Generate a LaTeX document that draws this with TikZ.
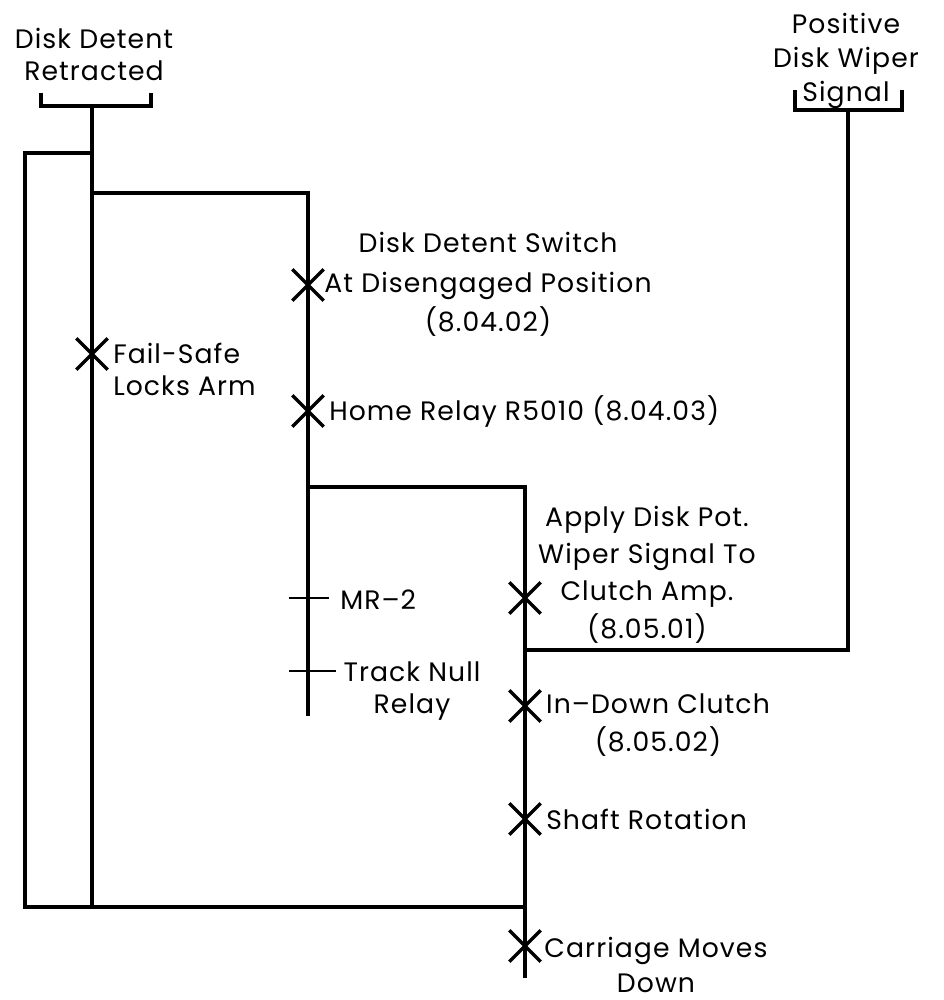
\documentclass[tikz,border=0pt]{standalone}
\usepackage{fontspec}
\setmainfont{Poppins}[LetterSpace=4]
\usetikzlibrary{shapes.misc}

\tikzset{
  wire/.style={line width=2.3pt},
  tickwire/.style={line width=1.6pt},
  xmark/.style={cross out, draw, line width=2.6pt, minimum width=21pt, minimum height=21pt, inner sep=0pt},
  lbl/.style={font=\fontsize{20}{24}\selectfont, align=center, inner sep=0pt},
}

\begin{document}
\begin{tikzpicture}[x=0.75pt, y=-0.75pt]
\useasboundingbox (0,0) rectangle (944,1000);

% Top labels and brackets
\node[lbl, anchor=base] (retract) at (94,80) {Disk Detent\\Retracted};
\node[lbl, anchor=base] (wiper) at (846,101) {Positive\\[1.5pt]Disk Wiper\\[1.5pt]Signal};
\draw[wire] (41,93) |- (151,106) -- (151,93);
\draw[wire] (795,90) |- (902,110) -- (902,90);

% Corners of the wiring
\coordinate (rtop) at (92,106);
\coordinate (rfork) at (92,153);
\coordinate (rmid) at (92,193);
\coordinate (rbot) at (92,907);
\coordinate (obl) at (25,907);
\coordinate (abot) at (525,907);
\coordinate (sbot) at (308,716);
\coordinate (sfork) at (308,487);
\coordinate (aend) at (525,978);
\coordinate (wtop) at (848,110);
\coordinate (wjoin) at (525,650);

% Wiring
\draw[wire] (rtop) -- (rbot);
\draw[wire] (rfork) -| (obl) -- (abot);
\draw[wire] (rmid) -| (sbot);
\draw[wire] (sfork) -| (aend);
\draw[wire] (wtop) |- (wjoin);

% Events
\node[xmark] (xfail) at (92,354) {};
\node[xmark] (xswitch) at (308,285) {};
\node[xmark] (xhome) at (308,411) {};
\node[xmark] (xapply) at (525,598) {};
\node[xmark] (xclutch) at (525,706) {};
\node[xmark] (xshaft) at (525,819) {};
\node[xmark] (xcarr) at (525,946) {};

% Relay contacts
\draw[tickwire] (308,598) +(-19,0) -- +(21,0);
\draw[tickwire] (308,671) +(-19,0) -- +(28,0);

% Labels
\node[lbl, anchor=base] (switchlbl) at (488,331) {Disk Detent Switch\\[6pt]At Disengaged Position\\[4pt](8.04.02)};
\node[lbl, anchor=base west, align=left] (faillbl) at (113,395) {Fail-Safe\\Locks Arm};
\node[lbl, anchor=base west] (homelbl) at (329,420) {Home Relay R5010 (8.04.03)};
\node[lbl, anchor=base] (applylbl) at (647,638) {Apply Disk Pot.\\[4pt]Wiper Signal To\\[4pt]Clutch Amp.\\[4pt](8.05.01)};
\node[lbl, anchor=base west] (mrlbl) at (340,609) {MR–2};
\node[lbl, anchor=base] (tracklbl) at (412,713) {Track Null\\Relay};
\node[lbl, anchor=base] (clutchlbl) at (658,751) {In–Down Clutch\\[4pt](8.05.02)};
\node[lbl, anchor=base west] (shaftlbl) at (546,829) {Shaft Rotation};
\node[lbl, anchor=base] (carrlbl) at (656,992) {Carriage Moves\\[2pt]Down};

\end{tikzpicture}
\end{document}
